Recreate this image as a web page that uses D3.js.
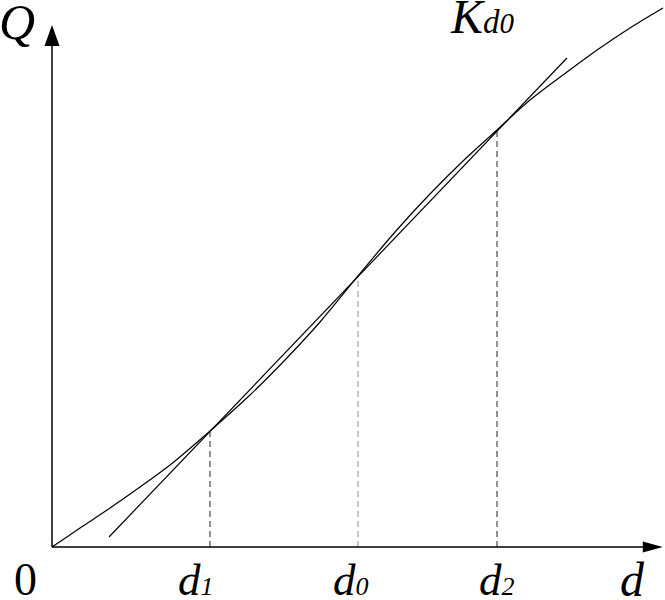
<!DOCTYPE html>
<html>
<head>
<meta charset="utf-8">
<script src="https://cdn.jsdelivr.net/npm/d3@7"></script>
<style>
  html, body { margin: 0; padding: 0; background: #fff; }
  svg { display: block; }
  text { font-family: "Liberation Serif", "Times New Roman", serif; fill: #000; }
</style>
</head>
<body>
<div id="chart"></div>
<script>
// ---- data ----
const curveX = [0, 4.67, 9.67, 14.67, 19.67, 26.33, 33, 38.67, 44.67, 51, 57.17, 62.67, 68.33, 74.17, 79.67, 85.83, 91.33, 96.33, 101.83];
const curveQ = [0, 3.65, 7.5, 11.54, 15.77, 22.31, 29.23, 35.77, 43.27, 52.12, 60.58, 67.5, 74.04, 80.19, 85.96, 91.35, 95.96, 99.81, 103.65];
const lineX = [9.5, 85.83];
const lineQ = [1.92, 94.04];
const markNames = ["d1", "d0", "d2"];
const markX = [26.33, 51, 74.17];
const markQ = [22.31, 52.12, 80.19];
const markColor = ["#555", "#aaa", "#555"];
const axisMaxX = 101.8;
const axisMaxQ = 100.4;

const W = 665, H = 600;
const svg = d3.select("#chart").append("svg").attr("width", W).attr("height", H);

const x = d3.scaleLinear().domain([0, 100]).range([52, 652]);
const y = d3.scaleLinear().domain([0, 100]).range([547, 27]);

// dashed verticals
markX.forEach((d, i) => {
  svg.append("line")
    .attr("x1", x(d)).attr("x2", x(d))
    .attr("y1", y(0)).attr("y2", y(markQ[i]))
    .attr("stroke", markColor[i]).attr("stroke-width", 1.3)
    .attr("stroke-dasharray", "6,4");
});

// axes
svg.append("line")
  .attr("x1", x(0)).attr("y1", y(0)).attr("x2", x(axisMaxX) - 12).attr("y2", y(0))
  .attr("stroke", "#000").attr("stroke-width", 1.5);
svg.append("line")
  .attr("x1", x(0)).attr("y1", y(0)).attr("x2", x(0)).attr("y2", y(axisMaxQ) + 14)
  .attr("stroke", "#000").attr("stroke-width", 1.5);
// arrowheads
const tx = x(axisMaxX), ty = y(0);
svg.append("path")
  .attr("d", `M${tx},${ty} L${tx - 20},${ty - 5.5} L${tx - 20},${ty + 5.5} Z`)
  .attr("fill", "#000");
const ax = x(0), ay = y(axisMaxQ);
svg.append("path")
  .attr("d", `M${ax},${ay} L${ax - 7.5},${ay + 21} L${ax + 7.5},${ay + 21} Z`)
  .attr("fill", "#000");

// curve
const pts = curveX.map((d, i) => [d, curveQ[i]]);
svg.append("path")
  .datum(pts)
  .attr("d", d3.line().x(d => x(d[0])).y(d => y(d[1])).curve(d3.curveCatmullRom))
  .attr("fill", "none").attr("stroke", "#000").attr("stroke-width", 1.2);

// secant line
const lpts = lineX.map((d, i) => [d, lineQ[i]]);
svg.append("path")
  .datum(lpts)
  .attr("d", d3.line().x(d => x(d[0])).y(d => y(d[1])))
  .attr("fill", "none").attr("stroke", "#000").attr("stroke-width", 1.2);

// labels
svg.append("text").attr("x", -1).attr("y", 39)
  .attr("font-size", 50).attr("font-style", "italic").text("Q");

svg.append("text").attr("x", 14).attr("y", 595)
  .attr("font-size", 46).text("0");

const kd = svg.append("text").attr("x", 451).attr("y", 33).attr("font-style", "italic");
kd.append("tspan").attr("font-size", 48).text("K");
kd.append("tspan").attr("font-size", 33).text("d");
kd.append("tspan").attr("font-size", 29).text("0");

const labelOffsets = [-32, -25, -18];
markNames.forEach((n, i) => {
  const t = svg.append("text").attr("x", x(markX[i]) + labelOffsets[i]).attr("y", 595)
    .attr("font-style", "italic");
  t.append("tspan").attr("font-size", 45).text(n[0]);
  t.append("tspan").attr("font-size", 26).text(n.slice(1));
});

svg.append("text").attr("x", 620).attr("y", 596)
  .attr("font-size", 48).attr("font-style", "italic").text("d");
</script>
</body>
</html>
